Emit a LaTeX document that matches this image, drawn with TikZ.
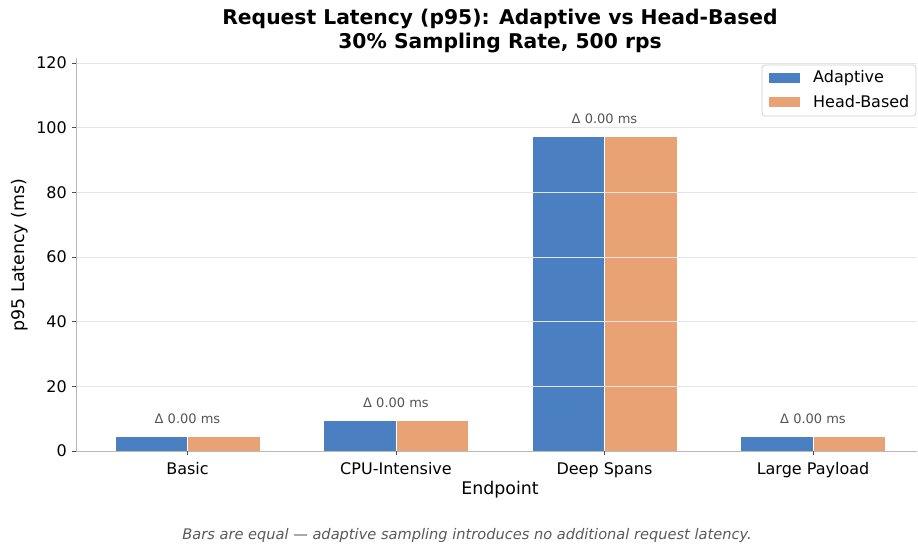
\documentclass[tikz,border=0pt]{standalone}
\usepackage{fontspec}
\setmainfont{DejaVu Sans}
\definecolor{adap}{RGB}{74,128,193}
\definecolor{head}{RGB}{233,162,116}
\definecolor{gridc}{RGB}{229,229,229}
\definecolor{spinec}{RGB}{185,185,185}
\definecolor{annot}{RGB}{85,85,85}
\definecolor{foot}{RGB}{90,90,90}
\tikzset{
  ticklbl/.style={font=\fontsize{16}{19}\selectfont, text=black, inner sep=0pt},
  annotlbl/.style={font=\fontsize{13}{16}\selectfont, text=annot, inner sep=0pt},
  gridline/.style={draw=gridc, line width=0.9pt},
  spine/.style={draw=spinec, line width=1pt},
  tickmark/.style={draw=black!70, line width=0.8pt},
  adapbar/.style={fill=adap, draw=white, line width=0.8pt},
  headbar/.style={fill=head, draw=white, line width=0.8pt},
  leglbl/.style={font=\fontsize{16}{19}\selectfont, anchor=west, inner sep=0pt}
}
\begin{document}
\begin{tikzpicture}[x=1pt,y=-1pt]
\useasboundingbox (0,0) rectangle (918,548);
\fill[white] (0,0) rectangle (918,548);
% bars
\foreach \c/\t in {187.5/436, 396/420, 604.5/136, 813/436}{
  \path[adapbar] (\c-72.5,451) rectangle (\c,\t);
  \path[headbar] (\c,451) rectangle (\c+72.5,\t);
}
% gridlines
\foreach \yy in {386.3,321.7,257,192.4,127.7,63}{
  \draw[gridline] (76,\yy) -- (917,\yy);
}
% spines
\draw[spine] (76,58) -- (76,451) -- (917,451);
% y ticks
\foreach \yy/\l in {451/0,386.3/20,321.7/40,257/60,192.4/80,127.7/100,63/120}{
  \draw[tickmark] (72,\yy) -- (76,\yy);
  \node[ticklbl, anchor=east] (yt\l) at (67,\yy) {\l};
}
% x ticks
\foreach \c/\l/\n in {187.5/Basic/a, 396/CPU-Intensive/b, 604.5/Deep Spans/c, 813/Large Payload/d}{
  \draw[tickmark] (\c,451) -- (\c,455);
  \node[ticklbl, anchor=base] (xt\n) at (\c,474) {\l};
}
% annotations
\foreach \c/\yy/\n in {187.5/419/a, 396/403/b, 604.5/119/c, 813/419/d}{
  \node[annotlbl] (an\n) at (\c,\yy) {Δ 0.00 ms};
}
% axis labels
\node[font=\fontsize{17.4}{21}\selectfont, inner sep=0pt] (xlab) at (500,490) {Endpoint};
\node[font=\fontsize{17.4}{21}\selectfont, inner sep=0pt, rotate=90] (ylab) at (20,255) {p95 Latency (ms)};
% title
\node[font=\fontsize{20.3}{24}\selectfont\bfseries, align=center, inner sep=0pt] (title) at (500,31) {Request Latency (p95): Adaptive vs Head-Based\\30\% Sampling Rate, 500 rps};
% legend
\draw[draw=gridc!80!gray, fill=white, rounded corners=3pt, line width=0.8pt] (762,65) rectangle (916,116);
\fill[adap] (769,73) rectangle (800,83);
\fill[head] (769,97) rectangle (800,107);
\node[leglbl] (lega) at (813,78) {Adaptive};
\node[leglbl] (legb) at (813,102) {Head-Based};
% footnote
\node[font=\fontsize{14.6}{17}\selectfont\itshape, text=foot, inner sep=0pt] (foot) at (467,535) {Bars are equal — adaptive sampling introduces no additional request latency.};
\end{tikzpicture}
\end{document}
